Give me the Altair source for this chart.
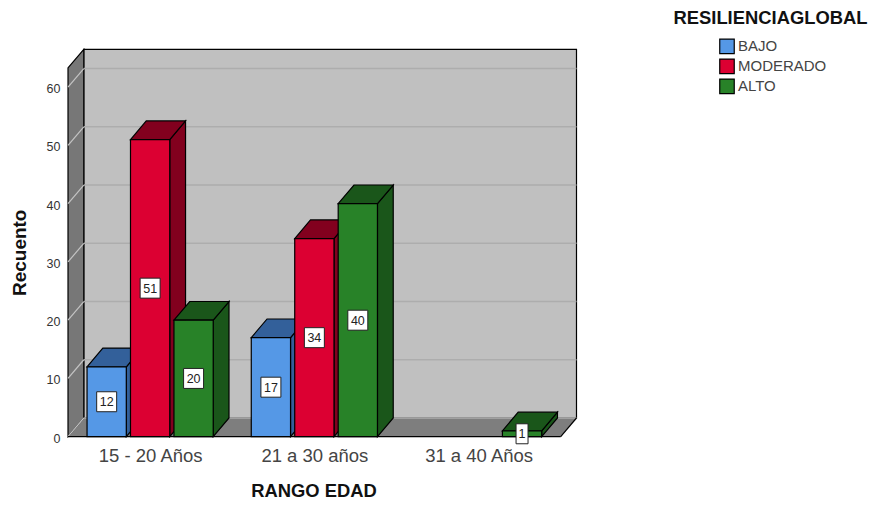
import altair as alt
import pandas as pd

# ---- values ----
categories = ["15 - 20 Años", "21 a 30 años", "31 a 40 Años"]
levels = ["BAJO", "MODERADO", "ALTO"]
bajo = [12, 17, None]
moderado = [51, 34, None]
alto = [20, 40, 1]
y_ticks = [0, 10, 20, 30, 40, 50, 60]

# ---- styling / geometry of the pseudo-3D box (data units) ----
front_colors = ["#5598E6", "#DC0032", "#288228"]
dark_colors = ["#33609A", "#82001E", "#1A561A"]
PX_X = 164.4       # pixels per category
PX_Y = 5.83        # pixels per count
DX = 15.8 / PX_X   # depth, x
DY = 18.7 / PX_Y   # depth, y
BAR_W = 39.3 / PX_X
PITCH = 43.5 / PX_X
WALL_TOP = 63.3
X_MAX = 3 + DX
Y_MAX = WALL_TOP + DY
W, H = 508.5, 387.4
xs = alt.Scale(domain=[0, X_MAX], nice=False, zero=False)
ys = alt.Scale(domain=[0, Y_MAX], nice=False, zero=False)

axis_x = alt.Axis(values=[0.5, 1.5, 2.5], title="RANGO EDAD", grid=False, domain=False, ticks=False,
                  labelExpr="['%s','%s','%s'][floor(datum.value)]" % tuple(categories),
                  labelFontSize=18.5, labelColor="#444444", labelPadding=9.5, labelFont="Liberation Sans",
                  titleFont="Liberation Sans", titleFontSize=18.4, titleFontWeight="bold", titleColor="#111111",
                  titleX=245.5, titleY=45)
axis_y = alt.Axis(values=y_ticks, title="Recuento", grid=False, domain=False, ticks=False,
                  labelFontSize=12.5, labelColor="#333333", labelPadding=8, labelOffset=1.5, labelFont="Liberation Sans",
                  titleFont="Liberation Sans", titleFontSize=19, titleFontWeight="bold", titleColor="#111111",
                  titleX=-39, titleY=203)


def X(f="x", **kw):
    return alt.X(f, type="quantitative", scale=xs, axis=axis_x, **kw)


def Y(f="y", **kw):
    return alt.Y(f, type="quantitative", scale=ys, axis=axis_y, stack=None, **kw)


def face(df, **mark):
    return alt.Chart(pd.DataFrame(df)).mark_area(orient="vertical", interpolate="linear", **mark).encode(
        x=X(), y=Y(), y2=alt.Y2("y2"), detail="id:N")


def rule(df, **mark):
    return alt.Chart(pd.DataFrame(df)).mark_rule(**mark).encode(
        x=X(), x2=alt.X2("x2"), y=Y(), y2=alt.Y2("y2"))


layers = []

# back wall
back = pd.DataFrame({"x": [DX], "x2": [X_MAX], "y": [DY], "y2": [Y_MAX]})
layers.append(alt.Chart(back).mark_rect(fill="#C0C0C0", stroke="black", strokeWidth=1.2).encode(
    x=X(), x2=alt.X2("x2"), y=Y(), y2=alt.Y2("y2")))

# floor
layers.append(face({"id": ["f"] * 4, "x": [0, DX, 3, X_MAX], "y": [0, DY, DY, DY], "y2": [0, 0, 0, DY]},
                   fill="#7E7E7E"))
# left wall
layers.append(face({"id": ["l"] * 2, "x": [0, DX], "y": [WALL_TOP, Y_MAX], "y2": [0, DY]},
                   fill="#777777", stroke="black", strokeWidth=1.2))
# gridlines
layers.append(rule({"x": [DX] * 7, "x2": [X_MAX] * 7, "y": [v + DY for v in y_ticks], "y2": [v + DY for v in y_ticks]},
                   color="#ADADAD", strokeWidth=1.5))
layers.append(rule({"x": [0] * 7, "x2": [DX] * 7, "y": list(y_ticks), "y2": [v + DY for v in y_ticks]},
                   color="#C4C4C4", strokeWidth=1.2))
# front and right floor edges
layers.append(rule({"x": [0, 3], "x2": [3, X_MAX], "y": [0, 0], "y2": [0, DY]}, color="black", strokeWidth=1.2))

# bars
label_rows = []
for s, (level, vals) in enumerate(zip(levels, [bajo, moderado, alto])):
    side, top, front = [], [], []
    for c, v in enumerate(vals):
        if v is None:
            continue
        x0 = c + 0.5 + (s - 1) * PITCH - BAR_W / 2
        x1 = x0 + BAR_W
        side += [dict(id=f"{c}", x=x1, y=v, y2=0), dict(id=f"{c}", x=x1 + DX, y=v + DY, y2=DY)]
        top += [dict(id=f"{c}", x=x0, y=v, y2=v), dict(id=f"{c}", x=x0 + DX, y=v + DY, y2=v),
                dict(id=f"{c}", x=x1, y=v + DY, y2=v), dict(id=f"{c}", x=x1 + DX, y=v + DY, y2=v + DY)]
        front.append(dict(x=x0, x2=x1, y=v, y2=0, level=level))
        label_rows.append(dict(cx=(x0 + x1) / 2, cy=v / 2, n=str(v)))
    layers.append(face(side, fill=dark_colors[s], stroke="black", strokeWidth=1.2))
    layers.append(face(top, fill=dark_colors[s], stroke="black", strokeWidth=1.2))
    layers.append(alt.Chart(pd.DataFrame(front)).mark_rect(stroke="black", strokeWidth=1.2).encode(
        x=X(), x2=alt.X2("x2"), y=Y(), y2=alt.Y2("y2"),
        color=alt.Color("level:N", scale=alt.Scale(domain=levels, range=front_colors),
                        legend=alt.Legend(orient="none", legendX=651, legendY=-11, title=None,
                                          symbolType="square", symbolSize=210, symbolStrokeColor="black",
                                          symbolStrokeWidth=1.2, symbolOpacity=1, labelFontSize=15,
                                          labelFont="Liberation Sans", labelColor="#444444",
                                          labelOffset=3, rowPadding=0, padding=0))))

labels = pd.DataFrame(label_rows)
labels["hw"] = labels["n"].str.len().map({1: 6, 2: 10}) / PX_X
labels["hh"] = 10 / PX_Y
labels["x0"] = labels["cx"] - labels["hw"]
labels["x1"] = labels["cx"] + labels["hw"]
labels["y0"] = labels["cy"] - labels["hh"]
labels["y1"] = labels["cy"] + labels["hh"]
layers.append(alt.Chart(labels).mark_rect(fill="white", stroke="#222222", strokeWidth=1).encode(
    x=X("x0"), x2=alt.X2("x1"), y=Y("y0"), y2=alt.Y2("y1")))
layers.append(alt.Chart(labels).mark_text(fontSize=12.5, font="Liberation Sans", color="#222222", dy=0.5).encode(
    x=X("cx"), y=Y("cy"), text="n:N"))

# legend heading
layers.append(alt.Chart(pd.DataFrame({"t": ["RESILIENCIAGLOBAL"]})).mark_text(
    fontSize=18.4, font="Liberation Sans", fontWeight="bold", color="#111111", align="center", baseline="middle",
    x=702.5, y=-31.5).encode(text="t:N"))

chart = alt.layer(*layers).properties(
    width=W, height=H,
    padding={"left": 60, "top": 41.3, "right": 291.5, "bottom": 61.2},
    autosize=alt.AutoSizeParams(type="none"),
    background="white",
).configure_view(stroke=None)

chart.save("out.html", embed_options={"renderer": "svg", "actions": False})
